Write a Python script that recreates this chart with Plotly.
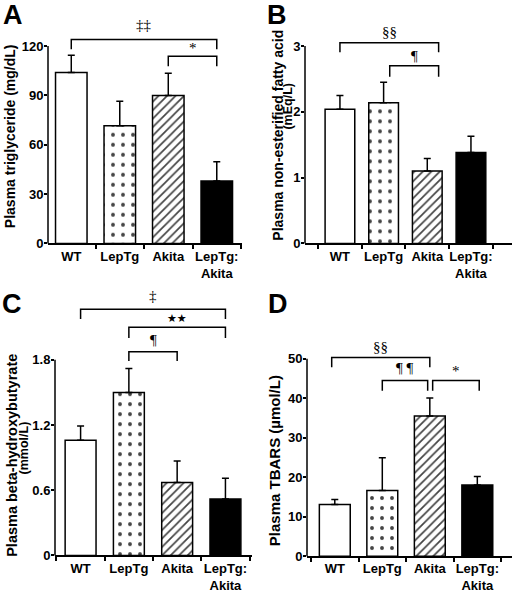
import plotly.graph_objects as go

# ---------------- data ----------------
categories = ["WT", "LepTg", "Akita", "LepTg:Akita"]
tick_labels = ["WT", "LepTg", "Akita", "LepTg:<br>Akita"]

tg_mean = [104.0, 71.5, 90.0, 38.0]
tg_err = [10.4, 15.0, 13.4, 11.6]
nefa_mean = [2.04, 2.14, 1.10, 1.38]
nefa_err = [0.21, 0.31, 0.19, 0.25]
bhb_mean = [1.06, 1.50, 0.67, 0.52]
bhb_err = [0.13, 0.22, 0.20, 0.19]
tbars_mean = [13.1, 16.6, 35.5, 18.0]
tbars_err = [1.25, 8.3, 4.6, 2.2]

tg_ticks = [0, 30, 60, 90, 120]
nefa_ticks = [0, 1, 2, 3]
bhb_ticks = [0, 0.6, 1.2, 1.8]
tbars_ticks = [0, 10, 20, 30, 40, 50]

# significance brackets: (from category, shift, to category, shift, top, leg, label, label y)
tg_sig = [("WT", 0, "LepTg:Akita", 0, 124.0, 118.0, "‡‡", 133.0),
          ("Akita", 0, "LepTg:Akita", 0, 113.8, 107.8, "*", 119.0)]
nefa_sig = [("WT", 0, "Akita", 0.26, 3.05, 2.905, "§§", 3.21),
            ("LepTg", 0.14, "Akita", 0.26, 2.70, 2.535, "¶", 2.85)]
bhb_sig = [("WT", 0, "LepTg:Akita", 0, 2.266, 2.176, "‡", 2.385),
           ("LepTg", 0, "LepTg:Akita", 0, 2.10, 2.00, "★★", 2.18),
           ("LepTg", 0, "Akita", 0, 1.873, 1.788, "¶", 1.98)]
tbars_sig = [("WT", -0.065, "Akita", 0, 50.35, 47.85, "§§", 53.0),
             ("LepTg", 0, "Akita", -0.045, 44.5, 41.9, "¶ ¶", 47.6),
             ("Akita", 0.06, "LepTg:Akita", 0.04, 44.5, 41.9, "*", 46.8)]

W, H = 514, 596


def px_x(p):
    return p / W


def px_y(p):
    return 1 - p / H


FILL = ["white", "white", "white", "black"]
PATTERN = ["", ".", "/", ""]

# layout boxes in pixels: x extent of axis, y pixel of zero and of the top tick
panels = [
    dict(mean=tg_mean, err=tg_err, ticks=tg_ticks, top=120, ymax=136.0,
         xdom=(48, 242), y0px=246.7, ytoppx=46.7, xr=(-0.48, 3.52), bw=0.65,
         sig=tg_sig, letter="A", lpos=(13, 15)),
    dict(mean=nefa_mean, err=nefa_err, ticks=nefa_ticks, top=3, ymax=3.3,
         xdom=(305, 512), y0px=246.7, ytoppx=46.7, xr=(-0.80, 3.94), bw=0.68,
         sig=nefa_sig, letter="B", lpos=(277, 15)),
    dict(mean=bhb_mean, err=bhb_err, ticks=bhb_ticks, top=1.8, ymax=2.45,
         xdom=(55, 252), y0px=563.0, ytoppx=364.7, xr=(-0.53, 3.55), bw=0.64,
         sig=bhb_sig, letter="C", lpos=(12, 308)),
    dict(mean=tbars_mean, err=tbars_err, ticks=tbars_ticks, top=50, ymax=54.0,
         xdom=(307, 512), y0px=563.7, ytoppx=363.7, xr=(-0.585, 3.73), bw=0.65,
         sig=tbars_sig, letter="D", lpos=(278, 308)),
]

fig = go.Figure()
shapes = []
annotations = []
SANS = "Liberation Sans"
SERIF = "Liberation Serif"

for i, p in enumerate(panels):
    n = "" if i == 0 else str(i + 1)
    xa, ya = "x" + n, "y" + n
    scale = (p["y0px"] - p["ytoppx"]) / p["top"]
    dom_top_px = p["y0px"] - p["ymax"] * scale
    fig.add_trace(go.Bar(
        x=categories, y=p["mean"], width=p["bw"], xaxis=xa, yaxis=ya,
        marker=dict(color=FILL, line=dict(color="black", width=1.5),
                    pattern=dict(shape=PATTERN, fgcolor="black", fgopacity=1,
                                 size=[8, 10, 6, 8], solidity=[0.3, 0.12, 0.28, 0.3])),
        error_y=dict(type="data", array=p["err"], arrayminus=[0] * 4, symmetric=False,
                     color="black", thickness=1.5, width=3.5),
        showlegend=False, hoverinfo="skip"))
    fig.layout["xaxis" + n] = dict(
        domain=[px_x(p["xdom"][0]), px_x(p["xdom"][1])], anchor=ya,
        type="category", categoryorder="array", categoryarray=categories,
        range=list(p["xr"]), tickvals=categories, ticktext=tick_labels, tickangle=0,
        showline=True, linecolor="black", linewidth=1.5,
        ticks="outside", tickson="boundaries", ticklen=4, tickwidth=1.5, tickcolor="black",
        tickfont=dict(family=SANS, size=13, color="black", weight="bold"),
        showgrid=False, zeroline=False, fixedrange=True)
    fig.layout["yaxis" + n] = dict(
        domain=[px_y(p["y0px"]), px_y(dom_top_px)], anchor=xa,
        range=[0, p["ymax"]], tickvals=p["ticks"],
        showline=False, ticks="outside", ticklen=3, tickwidth=1.5, tickcolor="black",
        ticklabelstandoff=-2,
        tickfont=dict(family=SANS, size=13, color="black", weight="bold"),
        showgrid=False, zeroline=False, fixedrange=True)
    # y axis line from 0 to top tick (domain-relative, unclipped)
    shapes.append(dict(type="line", xref=xa + " domain", yref=ya + " domain", x0=0, x1=0,
                       y0=0, y1=p["top"] / p["ymax"], line=dict(color="black", width=1.5)))
    for (c0, s0, c1, s1, ytop, yleg, lab, ly) in p["sig"]:
        x0 = categories.index(c0) + s0
        x1 = categories.index(c1) + s1
        shapes.append(dict(type="path", xref=xa, yref=ya,
                           path=f"M{x0},{yleg} L{x0},{ytop} L{x1},{ytop} L{x1},{yleg}",
                           line=dict(color="black", width=1.5)))
        star = "★" in lab
        annotations.append(dict(
            x=(x0 + x1) / 2, y=ly, xref=xa, yref=ya, text=lab, showarrow=False,
            xanchor="center", yanchor="middle",
            font=dict(family="DejaVu Sans" if star else SERIF,
                      size=11 if star else 15, color="black")))
    annotations.append(dict(x=px_x(p["lpos"][0]), y=px_y(p["lpos"][1]), xref="paper",
                            yref="paper", text=p["letter"], showarrow=False,
                            xanchor="center", yanchor="middle",
                            font=dict(family=SANS, size=27, color="black", weight="bold")))

# axis titles (rotated text): text, x px, y px, font size
titles = [
    ("Plasma triglyceride (mg/dL)", 10, 138, 14),
    ("Plasma non-esterified fatty acid", 278.5, 137, 14),
    ("(mEq/L)", 288, 108, 12.5),
    ("Plasma beta-hydroxybutyrate", 12, 462, 14.5),
    ("(mmol/L)", 23.5, 454, 12.5),
    ("Plasma TBARS (µmol/L)", 274.5, 467, 15),
]
for txt, xp, yp, fs in titles:
    annotations.append(dict(x=px_x(xp), y=px_y(yp), xref="paper", yref="paper",
                            text=txt, textangle=-90, showarrow=False,
                            xanchor="center", yanchor="middle",
                            font=dict(family=SANS, size=fs, color="black", weight="bold")))

fig.update_layout(width=W, height=H, margin=dict(l=0, r=0, t=0, b=0),
                  paper_bgcolor="white", plot_bgcolor="white",
                  shapes=shapes, annotations=annotations, bargap=0.3)

fig.write_html("out.html", config={"displayModeBar": False},
               post_script="document.body.style.margin='0';document.body.style.overflow='hidden';")
